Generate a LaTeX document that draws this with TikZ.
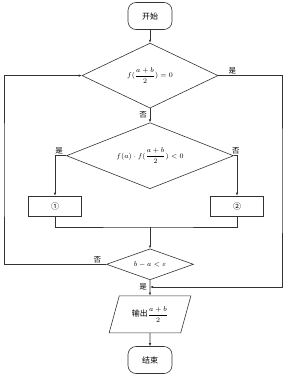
\documentclass[tikz,border=0pt]{standalone}
\usepackage{amsmath}
\usepackage{fontspec}
\newfontfamily\cjk{Noto Sans CJK SC}
\usetikzlibrary{arrows.meta,positioning,shapes.geometric}
\definecolor{ink}{HTML}{333333}

\begin{document}
\begin{tikzpicture}[x=1pt,y=-1pt,
  node distance=13pt,
  term/.style={draw=ink,line width=0.6pt,rounded corners=8pt,minimum width=44pt,
    minimum height=27pt,font=\cjk\fontsize{8}{9}\selectfont},
  cond/.style={draw=ink,line width=0.6pt,diamond,aspect=2,inner sep=0pt,
    font=\fontsize{7.5}{9}\selectfont},
  proc/.style={draw=ink,line width=0.6pt,minimum width=53pt,minimum height=20pt,
    font=\cjk\fontsize{8}{9}\selectfont},
  io/.style={draw=ink,line width=0.6pt,trapezium,trapezium left angle=70,
    trapezium right angle=110,trapezium stretches=true,minimum width=82pt,
    minimum height=37pt,inner sep=1pt,font=\cjk\fontsize{8}{9}\selectfont},
  lbl/.style={font=\cjk\fontsize{7.5}{8}\selectfont,inner sep=1pt},
  arr/.style={-{Latex[length=3pt,width=2.5pt]},draw=ink,line width=0.6pt},
  conn/.style={draw=ink,line width=0.6pt}]
\useasboundingbox (0,0) rectangle (284,375);
% main column
\node[term] (start) at (150,16) {开始};
\node[cond,minimum width=136pt,minimum height=65pt,below=13pt of start] (d1)
  {$f(\dfrac{a+b}{2})=0$};
\node[cond,minimum width=167pt,minimum height=66pt,below=14pt of d1] (d2)
  {$f(a)\cdot f(\dfrac{a+b}{2})<0$};
\node[proc] (b1) at (55,206) {①};
\node[proc] (b2) at (237,206) {②};
\node[cond,minimum width=87pt,minimum height=31pt,below=59.5pt of d2] (d3)
  {$b-a<\varepsilon$};
\node[io,below=15.5pt of d3] (out) {输出{\fontsize{7.5}{9}\selectfont$\dfrac{a+b}{2}$}};
\node[term,below=13pt of out] (stop) {结束};
% helper points
\coordinate (merge) at (150,227);
\coordinate (loopL) at (4,170);
\coordinate (loopR) at (282,180);
\coordinate (join) at (150,287);
% connectors
\draw[arr] (start) -- (d1);
\draw[arr] (d1) -- (d2);
\draw[arr] (d2.west) -| (b1.north);
\draw[arr] (d2.east) -| (b2.north);
\draw[conn] (b1.south) |- (merge) -| (b2.south);
\draw[arr] (merge) -- (d3);
\draw[arr] (d3.west) -| (loopL) |- (d1.west);
\draw[arr] (d1.east) -| (loopR) |- (join);
\draw[arr] (d3) -- (out);
\draw[arr] (out) -- (stop);
% branch labels
\node[lbl,anchor=south west] at ([xshift=9pt]d1.east) {是};
\node[lbl,anchor=north east] at ([xshift=-2pt,yshift=-2pt]d1.south) {否};
\node[lbl,anchor=south] at ([xshift=-7pt]d2.west) {是};
\node[lbl,anchor=south] at ([xshift=2pt]d2.east) {否};
\node[lbl,anchor=south east] at ([xshift=-4pt]d3.west) {否};
\node[lbl,anchor=north east] at ([xshift=-2pt,yshift=-2pt]d3.south) {是};
\end{tikzpicture}
\end{document}
